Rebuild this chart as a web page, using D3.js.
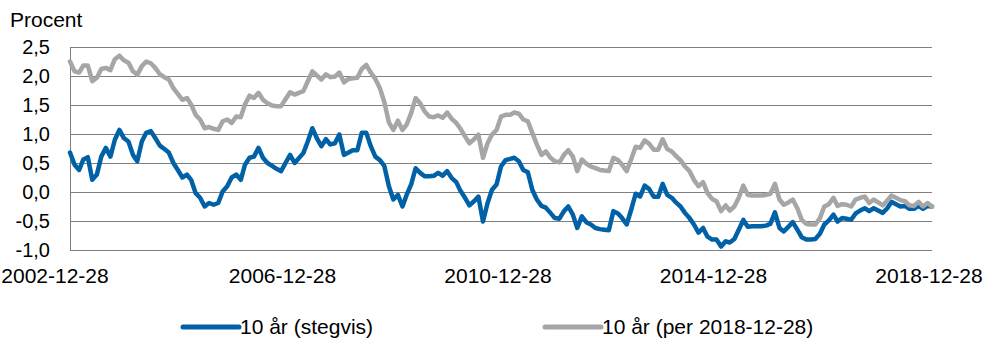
<!DOCTYPE html>
<html>
<head>
<meta charset="utf-8">
<script src="https://cdn.jsdelivr.net/npm/d3@7"></script>
<style>
  body { margin: 0; background: #fff; }
  svg { display: block; }
  text { font-family: "Liberation Sans", Arial, Helvetica, sans-serif; fill: #000; }
</style>
</head>
<body>
<svg id="chart" width="992" height="340"></svg>
<script>
// Monthly observations, first one on the start date
const startDate = "2002-12-28";
const tickLabels = ["2002-12-28", "2006-12-28", "2010-12-28", "2014-12-28", "2018-12-28"];
const yTicks = [2.5, 2.0, 1.5, 1.0, 0.5, 0.0, -0.5, -1.0];
const yTitle = "Procent";
const seriesNames = ["10 år (stegvis)", "10 år (per 2018-12-28)"];
const seriesColors = ["#0061A6", "#A6A6A6"];

// 10 år (stegvis)
const stegvis = [
  0.68, 0.47, 0.38, 0.56, 0.60, 0.21, 0.30, 0.61, 0.76, 0.61, 0.90, 1.07,
  0.93, 0.87, 0.64, 0.53, 0.87, 1.02, 1.05, 0.93, 0.80, 0.74, 0.68, 0.50,
  0.38, 0.25, 0.30, 0.21, -0.02, -0.10, -0.25, -0.19, -0.22, -0.19, 0.01, 0.10,
  0.25, 0.30, 0.21, 0.47, 0.59, 0.61, 0.76, 0.59, 0.50, 0.45, 0.40, 0.36,
  0.50, 0.64, 0.50, 0.58, 0.67, 0.87, 1.10, 0.93, 0.79, 0.91, 0.82, 0.84,
  0.99, 0.64, 0.68, 0.72, 0.72, 1.02, 1.02, 0.79, 0.61, 0.55, 0.45, 0.10,
  -0.13, -0.05, -0.25, -0.05, 0.13, 0.41, 0.33, 0.27, 0.27, 0.28, 0.33, 0.28,
  0.36, 0.24, 0.17, 0.02, -0.10, -0.23, -0.16, -0.08, -0.51, -0.19, 0.04, 0.13,
  0.44, 0.55, 0.57, 0.59, 0.53, 0.38, 0.34, 0.04, -0.13, -0.24, -0.27, -0.36,
  -0.45, -0.46, -0.33, -0.25, -0.39, -0.62, -0.42, -0.52, -0.56, -0.62, -0.64, -0.65,
  -0.66, -0.33, -0.37, -0.45, -0.56, -0.31, -0.03, -0.08, 0.11, 0.05, -0.08, -0.08,
  0.14, -0.05, -0.10, -0.18, -0.25, -0.36, -0.45, -0.56, -0.70, -0.62, -0.77, -0.82,
  -0.82, -0.94, -0.85, -0.87, -0.81, -0.65, -0.48, -0.60, -0.59, -0.59, -0.59, -0.58,
  -0.55, -0.35, -0.62, -0.68, -0.60, -0.52, -0.65, -0.78, -0.82, -0.82, -0.81, -0.72,
  -0.56, -0.49, -0.39, -0.51, -0.45, -0.46, -0.48, -0.37, -0.32, -0.28, -0.33, -0.28,
  -0.32, -0.36, -0.28, -0.17, -0.21, -0.25, -0.24, -0.29, -0.29, -0.24, -0.29, -0.24,
  -0.25
];

// 10 år (per 2018-12-28)
const per20181228 = [
  2.25, 2.08, 2.06, 2.18, 2.18, 1.91, 1.97, 2.12, 2.14, 2.10, 2.29, 2.35,
  2.27, 2.23, 2.08, 2.02, 2.17, 2.25, 2.22, 2.14, 2.03, 1.98, 1.94, 1.79,
  1.69, 1.59, 1.62, 1.51, 1.33, 1.25, 1.10, 1.12, 1.09, 1.07, 1.22, 1.25,
  1.19, 1.30, 1.29, 1.51, 1.66, 1.62, 1.71, 1.59, 1.53, 1.49, 1.48, 1.48,
  1.60, 1.72, 1.68, 1.71, 1.74, 1.91, 2.08, 2.01, 1.94, 2.03, 1.98, 1.99,
  2.06, 1.89, 1.95, 1.96, 1.97, 2.12, 2.19, 2.06, 1.95, 1.79, 1.55, 1.20,
  1.07, 1.23, 1.07, 1.16, 1.36, 1.62, 1.53, 1.39, 1.30, 1.29, 1.32, 1.28,
  1.37, 1.26, 1.19, 1.09, 0.96, 0.84, 0.91, 0.99, 0.59, 0.84, 0.99, 1.07,
  1.30, 1.33, 1.33, 1.37, 1.35, 1.25, 1.22, 1.02, 0.82, 0.64, 0.70, 0.59,
  0.53, 0.51, 0.64, 0.72, 0.61, 0.36, 0.56, 0.49, 0.44, 0.41, 0.38, 0.37,
  0.36, 0.59, 0.55, 0.47, 0.36, 0.56, 0.78, 0.76, 0.89, 0.83, 0.73, 0.73,
  0.91, 0.74, 0.70, 0.62, 0.55, 0.44, 0.36, 0.21, 0.10, 0.17, -0.02, -0.12,
  -0.16, -0.33, -0.23, -0.32, -0.25, -0.10, 0.11, -0.05, -0.06, -0.06, -0.06, -0.05,
  -0.03, 0.14, -0.13, -0.22, -0.18, -0.13, -0.28, -0.48, -0.55, -0.56, -0.56, -0.45,
  -0.25, -0.21, -0.10, -0.24, -0.21, -0.22, -0.25, -0.13, -0.10, -0.08, -0.19, -0.13,
  -0.18, -0.23, -0.15, -0.06, -0.10, -0.14, -0.16, -0.23, -0.24, -0.17, -0.25, -0.19,
  -0.25
];

const svg = d3.select("#chart");
const plot = { left: 70, right: 932, top: 47, bottom: 250 };

const parseDate = d3.timeParse("%Y-%m-%d");
const t0 = parseDate(startDate);
const dates = stegvis.map((_, i) => d3.timeMonth.offset(t0, i));

const x = d3.scaleTime()
  .domain([t0, dates[dates.length - 1]])
  .range([plot.left, plot.right]);
const y = d3.scaleLinear()
  .domain([d3.min(yTicks), d3.max(yTicks)])
  .range([plot.bottom, plot.top]);

const sv = d3.formatLocale({ decimal: ",", thousands: " ", grouping: [3], currency: ["", " kr"], minus: "-" });
const fmt = sv.format(".1f");

// horizontal gridlines
svg.append("g")
  .selectAll("line")
  .data(yTicks)
  .join("line")
  .attr("x1", plot.left).attr("x2", plot.right)
  .attr("y1", d => Math.round(y(d)) + 0.5).attr("y2", d => Math.round(y(d)) + 0.5)
  .attr("stroke", "#7F7F7F").attr("stroke-width", 1);

// vertical axis line
svg.append("line")
  .attr("x1", plot.left + 0.5).attr("x2", plot.left + 0.5)
  .attr("y1", Math.round(y(d3.max(yTicks))) + 0.5).attr("y2", Math.round(y(d3.min(yTicks))) + 0.5)
  .attr("stroke", "#7F7F7F").attr("stroke-width", 1);

// y tick labels
svg.append("g")
  .selectAll("text")
  .data(yTicks)
  .join("text")
  .attr("x", 50)
  .attr("y", d => y(d))
  .attr("dy", "0.35em")
  .attr("text-anchor", "end")
  .attr("font-size", 20)
  .text(d => fmt(d));

// axis title
svg.append("text")
  .attr("x", 10).attr("y", 27)
  .attr("font-size", 21)
  .text(yTitle);

// x tick labels
svg.append("g")
  .selectAll("text")
  .data(tickLabels)
  .join("text")
  .attr("x", (d, i) => {
    const px = x(parseDate(d));
    return i === 0 ? Math.max(px - 15, 0) : px - 3;
  })
  .attr("y", 283)
  .attr("text-anchor", "middle")
  .attr("font-size", 21)
  .text(d => d);

// series lines
const line = d3.line()
  .x((d, i) => x(dates[i]))
  .y(d => y(d));

[stegvis, per20181228].forEach((values, k) => {
  svg.append("path")
    .datum(values)
    .attr("fill", "none")
    .attr("stroke", seriesColors[k])
    .attr("stroke-width", 4.5)
    .attr("stroke-linejoin", "round")
    .attr("stroke-linecap", "round")
    .attr("d", line);
});

// legend
const legendItems = [
  { x: 183, name: seriesNames[0], color: seriesColors[0] },
  { x: 545, name: seriesNames[1], color: seriesColors[1] }
];
const lg = svg.append("g").selectAll("g").data(legendItems).join("g")
  .attr("transform", d => `translate(${d.x},327)`);
lg.append("line")
  .attr("x1", 0).attr("x2", 56).attr("y1", 0).attr("y2", 0)
  .attr("stroke", d => d.color).attr("stroke-width", 5)
  .attr("stroke-linecap", "round");
lg.append("text")
  .attr("x", 57).attr("y", 0).attr("dy", "0.35em")
  .attr("font-size", 21)
  .text(d => d.name);
</script>
</body>
</html>
